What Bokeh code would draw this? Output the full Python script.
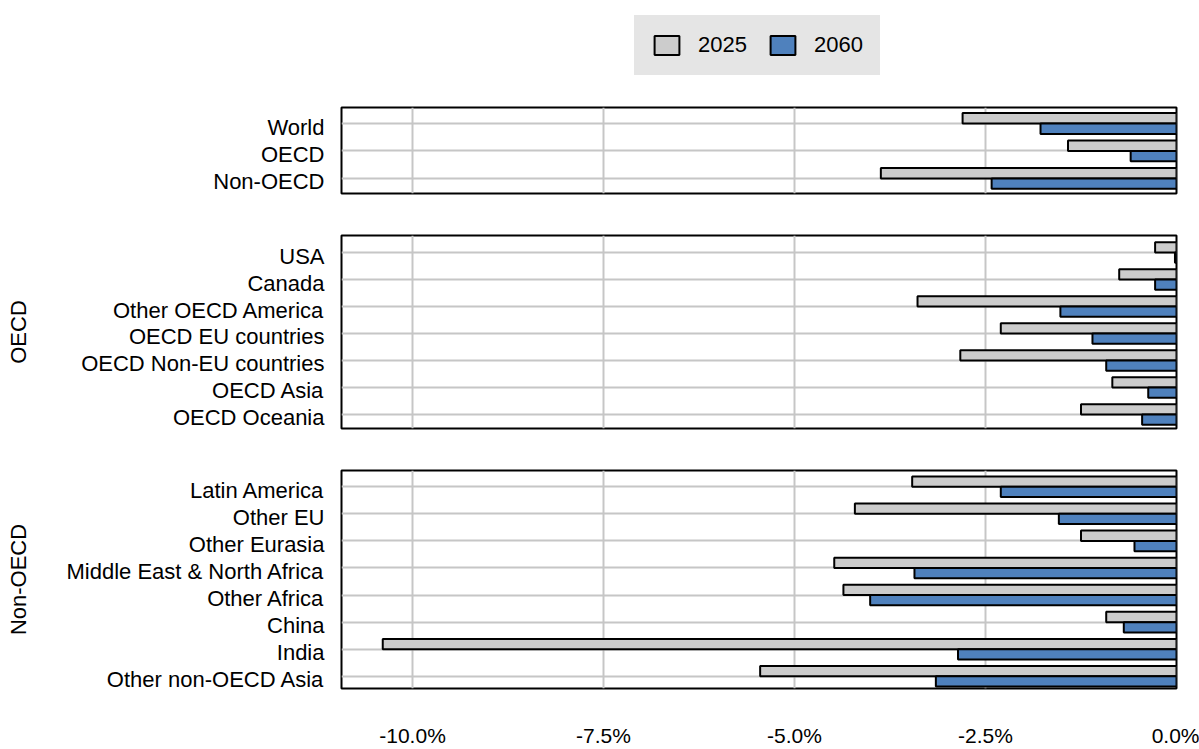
from bokeh.plotting import figure
from bokeh.layouts import column
from bokeh.models import Range1d, FixedTicker, Legend, LegendItem, CustomJSTickFormatter, ColumnDataSource
from bokeh.embed import file_html
from bokeh.resources import INLINE

# ---------------- data ----------------
series = ["2025", "2060"]
series_colors = ["#cccccc", "#4f81bd"]

agg_labels = ["World", "OECD", "Non-OECD"]
agg_2025 = [-2.80, -1.42, -3.87]
agg_2060 = [-1.78, -0.60, -2.42]

oecd_labels = ["USA", "Canada", "Other OECD America", "OECD EU countries",
               "OECD Non-EU countries", "OECD Asia", "OECD Oceania"]
oecd_2025 = [-0.28, -0.75, -3.39, -2.30, -2.83, -0.84, -1.25]
oecd_2060 = [-0.02, -0.28, -1.52, -1.10, -0.92, -0.37, -0.45]

non_labels = ["Latin America", "Other EU", "Other Eurasia", "Middle East & North Africa",
              "Other Africa", "China", "India", "Other non-OECD Asia"]
non_2025 = [-3.46, -4.21, -1.25, -4.48, -4.36, -0.92, -10.39, -5.45]
non_2060 = [-2.30, -1.54, -0.55, -3.43, -4.01, -0.69, -2.86, -3.15]

x_ticks = [-10, -7.5, -5, -2.5, 0]
x_tick_labels = ["-10.0%", "-7.5%", "-5.0%", "-2.5%", "0.0%"]

FONT = "Liberation Sans"
FS = "22px"
LABEL_OFF = 0.13
BAR_H = 0.38
W = 1199
LEFT = 341
RIGHT = W - 1176
LEGEND_BG = "#e5e5e5"


def panel(labels, v25, v60, group, height, top, bottom, pad_top, pad_bot,
          show_x=False, label_standoff=40):
    n = len(labels)
    p = figure(width=W, height=height, output_backend="svg", toolbar_location=None,
               x_range=Range1d(-10.93, 0), y_range=Range1d(n - 1 + pad_bot, -pad_top),
               min_border_left=LEFT, min_border_right=RIGHT,
               min_border_top=top, min_border_bottom=bottom)
    p.outline_line_color = "black"
    p.outline_line_width = 2
    p.background_fill_color = "white"
    p.border_fill_color = "white"

    idx = list(range(n))
    p.hbar(y=[i - BAR_H / 2 for i in idx], left=0, right=v25, height=BAR_H,
           fill_color=series_colors[0], line_color="black", line_width=2)
    p.hbar(y=[i + BAR_H / 2 for i in idx], left=0, right=v60, height=BAR_H,
           fill_color=series_colors[1], line_color="black", line_width=2)

    p.xgrid.ticker = FixedTicker(ticks=x_ticks)
    p.ygrid.ticker = FixedTicker(ticks=idx)
    for g in (p.xgrid, p.ygrid):
        g.grid_line_color = "#c6c6c6"
        g.grid_line_width = 2

    ya = p.yaxis[0]
    ya.ticker = FixedTicker(ticks=[i + LABEL_OFF for i in idx])
    ya.formatter = CustomJSTickFormatter(
        args=dict(labels=labels, off=LABEL_OFF),
        code="const k = Math.round(tick - off); return (k >= 0 && k < labels.length) ? labels[k] : '';")
    ya.axis_line_color = None
    ya.major_tick_line_color = None
    ya.minor_tick_line_color = None
    ya.major_tick_out = 0
    ya.major_tick_in = 0
    ya.minor_tick_out = 0
    ya.minor_tick_in = 0
    ya.major_label_standoff = 17
    ya.major_label_text_font = FONT
    ya.major_label_text_font_size = FS
    ya.major_label_text_color = "black"
    if group:
        ya.axis_label = group
        ya.axis_label_text_font = FONT
        ya.axis_label_text_font_size = FS
        ya.axis_label_text_font_style = "normal"
        ya.axis_label_text_color = "black"
        ya.axis_label_standoff = label_standoff

    xa = p.xaxis[0]
    if show_x:
        xa.ticker = FixedTicker(ticks=x_ticks)
        xa.major_label_overrides = {t: l for t, l in zip(x_ticks, x_tick_labels)}
        xa.axis_line_color = None
        xa.major_tick_line_color = None
        xa.minor_tick_line_color = None
        xa.major_tick_out = 0
        xa.major_tick_in = 0
        xa.minor_tick_out = 0
        xa.minor_tick_in = 0
        xa.major_label_standoff = 35
        xa.major_label_text_font = FONT
        xa.major_label_text_font_size = "21px"
        xa.major_label_text_color = "black"
    else:
        xa.visible = False
    return p


# legend strip on top; the tiny legend proxies are hidden beneath the legend box
p0 = figure(width=W, height=96, output_backend="svg", toolbar_location=None,
            x_range=Range1d(0, 1), y_range=Range1d(0, 1),
            x_axis_location=None, y_axis_location=None,
            min_border_left=LEFT, min_border_right=RIGHT, min_border_top=0, min_border_bottom=0)
p0.outline_line_color = None
p0.grid.grid_line_color = None
proxy = ColumnDataSource(data=dict(y=[0.5], left=[0.5], right=[0.51]))
g25 = p0.hbar(y="y", left="left", right="right", height=0.05, source=proxy,
              fill_color=series_colors[0], line_color="black", line_width=2)
g60 = p0.hbar(y="y", left="left", right="right", height=0.05, source=proxy,
              fill_color=series_colors[1], line_color="black", line_width=2)
legend = Legend(items=[LegendItem(label=series[0], renderers=[g25]),
                       LegendItem(label=series[1], renderers=[g60])],
                location=(293, 21), orientation="horizontal")
legend.background_fill_color = LEGEND_BG
legend.background_fill_alpha = 1
legend.border_line_color = LEGEND_BG
legend.border_line_width = 1
legend.padding = 16
legend.spacing = 20
legend.label_standoff = 16
legend.glyph_width = 31
legend.glyph_height = 24
legend.label_height = 24
legend.label_text_font = FONT
legend.label_text_font_size = FS
legend.label_text_color = "black"
legend.margin = 0
p0.add_layout(legend)

p1 = panel(agg_labels, agg_2025, agg_2060, None, 118, 11, 21, 0.58, 0.55)
p2 = panel(oecd_labels, oecd_2025, oecd_2060, "OECD", 234, 21, 20, 0.63, 0.52,
           label_standoff=47)
p3 = panel(non_labels, non_2025, non_2060, "Non-OECD", 301, 22, 61, 0.6, 0.45,
           show_x=True, label_standoff=33)

layout = column(p0, p1, p2, p3, spacing=0)

open("out.html", "w").write(file_html(layout, INLINE))
